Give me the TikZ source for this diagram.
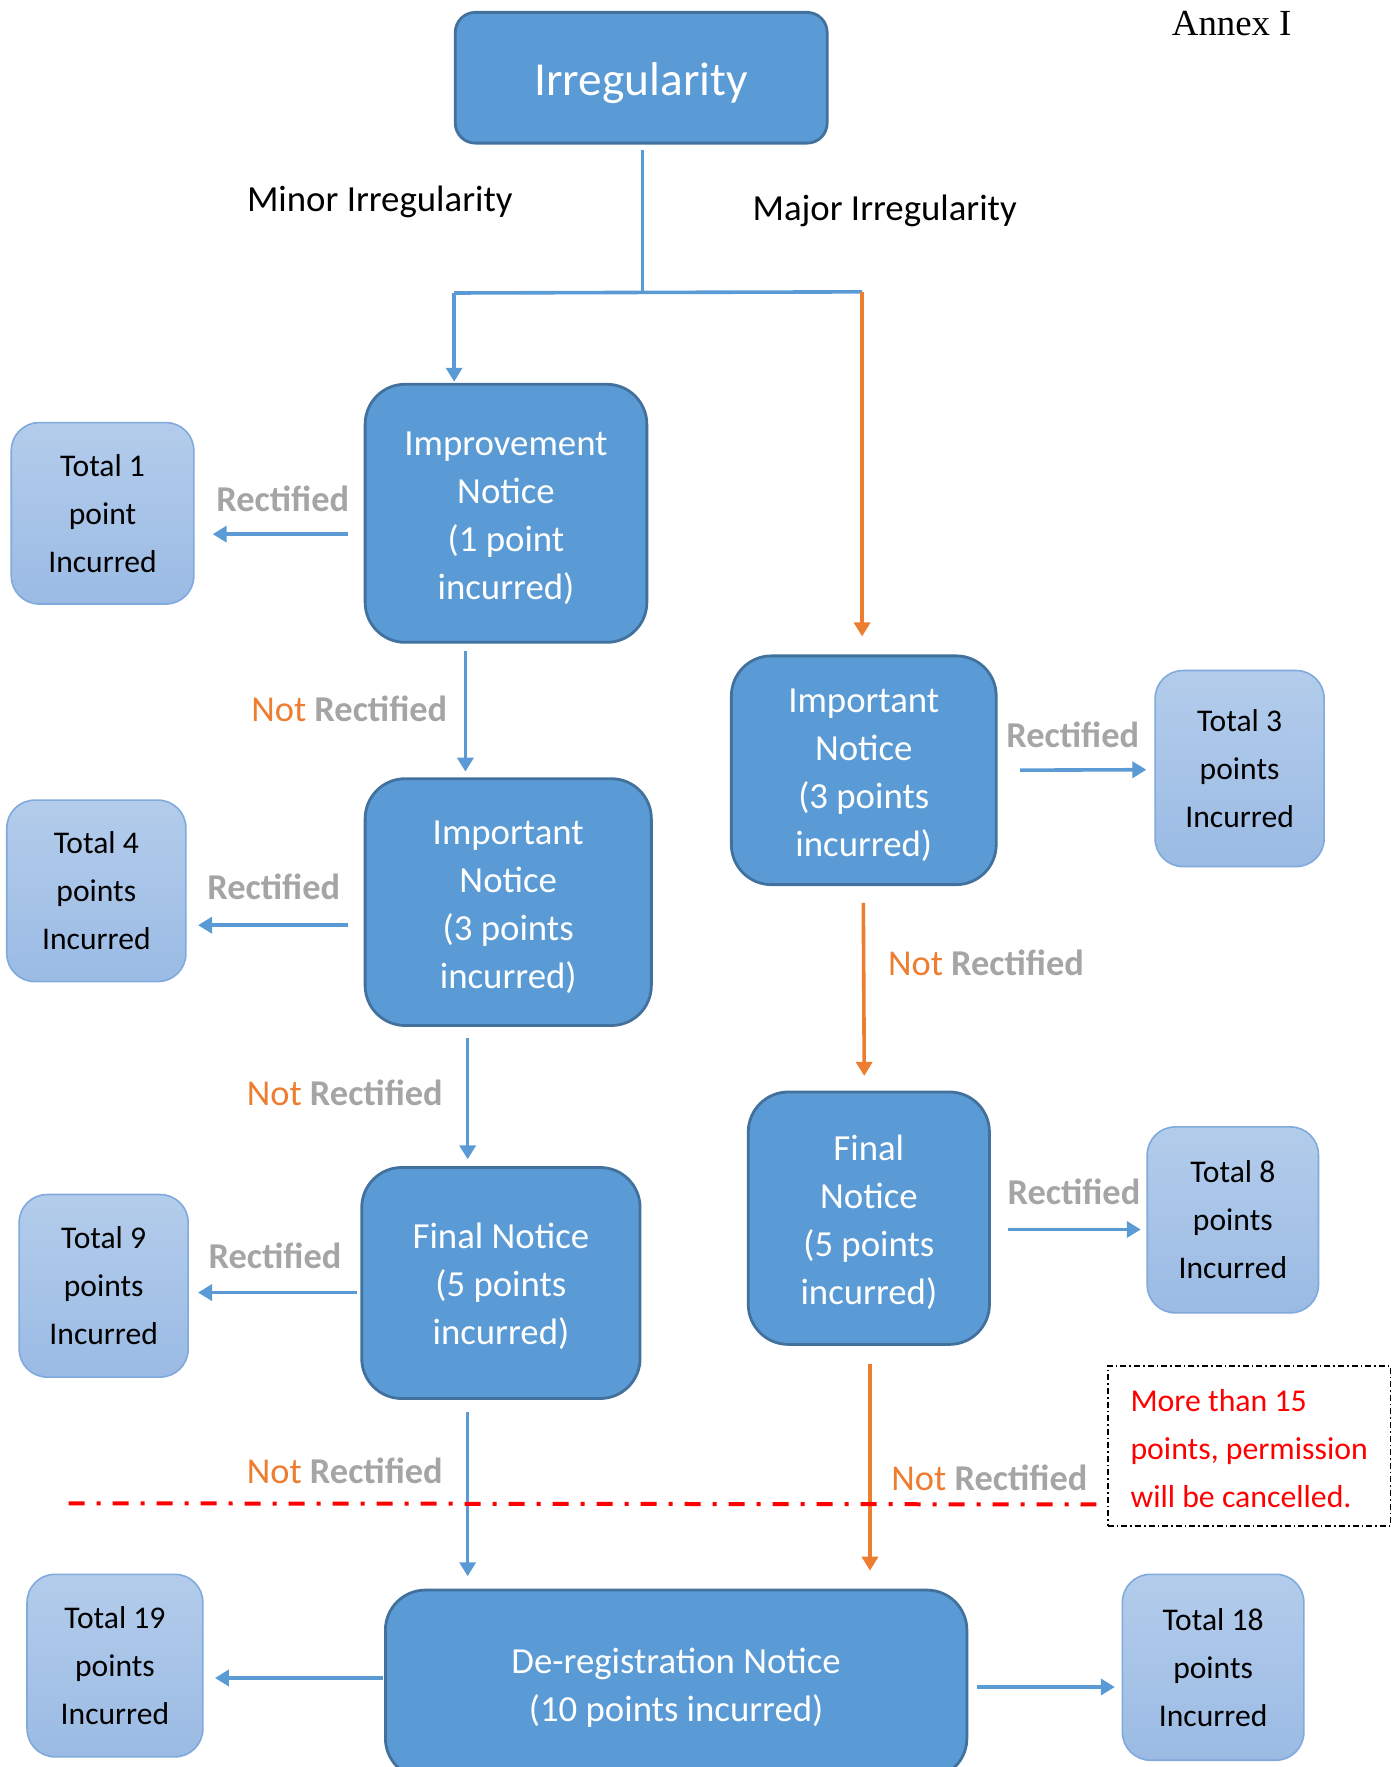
\documentclass[tikz,border=0pt]{standalone}
\usepackage{fontspec}
\setmainfont{Carlito}
\newfontfamily\annexfont{Liberation Serif}
\usetikzlibrary{positioning,arrows.meta,calc}
\definecolor{boxblue}{HTML}{5B9BD5}
\definecolor{boxedge}{HTML}{41719C}
\definecolor{lighttop}{HTML}{B3CCEB}
\definecolor{lightbot}{HTML}{9BBBE4}
\definecolor{lightedge}{HTML}{80A9DC}
\definecolor{notorange}{HTML}{ED7D31}
\definecolor{rectgray}{HTML}{A5A5A5}
\newlength{\px}
\setlength{\px}{0.5636pt}
\newcommand{\notword}{{\mdseries\textcolor{notorange}{Not}}}
\newcommand{\topgap}[1]{\rule{0pt}{#1}}

\begin{document}
\begin{tikzpicture}[x=\px, y=-\px,
  notice/.style={draw=boxedge, fill=boxblue, line width=1.4pt, text=white, align=center,
    font=\fontsize{18.4}{24}\selectfont, inner sep=0pt, rounded corners=20pt},
  total/.style={draw=lightedge, top color=lighttop, bottom color=lightbot, line width=0.8pt,
    rounded corners=14pt, align=center, font=\fontsize{15.8}{24}\selectfont, inner sep=0pt},
  link/.style={draw=boxblue, line width=1.8pt},
  flow/.style={link, -{Triangle[length=7pt,width=8pt]}, shorten <=6\px, shorten >=5\px},
  majorflow/.style={flow, draw=notorange},
  donelbl/.style={font=\bfseries\fontsize{18.2}{22}\selectfont, text=rectgray},
  branchlbl/.style={font=\fontsize{18.4}{22}\selectfont},
  cutline/.style={draw=red, line width=2pt, dash pattern=on 8pt off 6pt on 2pt off 6pt}
]
  \useasboundingbox (0,0) rectangle (1242,1568);
  \clip (0,0) rectangle (1242,1568);

  % Top of the chart
  \node[notice, rounded corners=10pt, minimum width=330\px, minimum height=116\px,
    font=\fontsize{23.7}{28}\selectfont] (irr) at (569,69) {\topgap{22pt}Irregularity};
  \node[font=\annexfont\fontsize{18.4}{22}\selectfont] (annex) at (1093,21) {Annex I};
  \node[branchlbl] (minor) at (337,179) {Minor Irregularity};
  \node[branchlbl] (major) at (785,187) {Major Irregularity};

  % Minor branch
  \node[notice, minimum width=250\px, minimum height=229\px] (imp) at (449,455.5)
    {\topgap{16.5pt}Improvement\\Notice\\(1 point\\incurred)};
  \node[notice, minimum width=254\px, minimum height=219\px] (impL) at (451,800.5)
    {\topgap{16.5pt}Important\\Notice\\(3 points\\incurred)};
  \node[notice, minimum width=247\px, minimum height=205\px] (finL) at (444.5,1138.5)
    {\topgap{16.5pt}Final Notice\\(5 points\\incurred)};

  % Major branch
  \node[notice, minimum width=235\px, minimum height=203\px] (impR) at (766.5,683.5)
    {\topgap{16.5pt}Important\\Notice\\(3 points\\incurred)};
  \node[notice, minimum width=214\px, minimum height=224\px] (finR) at (771,1081)
    {\topgap{16.5pt}Final\\Notice\\(5 points\\incurred)};

  % Last step
  \node[notice, minimum width=516\px, minimum height=167\px] (dereg) at (600,1494.5)
    {\topgap{16.5pt}De-registration Notice\\(10 points incurred)};

  % Totals
  \node[total, minimum width=162\px, minimum height=161\px] (tot1) at (91,455.5) {Total 1\\point\\Incurred};
  \node[total, minimum width=159\px, minimum height=161\px] (tot4) at (85.5,790.5) {Total 4\\points\\Incurred};
  \node[total, minimum width=150\px, minimum height=162\px] (tot9) at (92,1141) {Total 9\\points\\Incurred};
  \node[total, minimum width=156\px, minimum height=162\px] (tot19) at (102,1478) {Total 19\\points\\Incurred};
  \node[total, minimum width=150\px, minimum height=174\px] (tot3) at (1100,682) {Total 3\\points\\Incurred};
  \node[total, minimum width=152\px, minimum height=165\px] (tot8) at (1094,1082.5) {Total 8\\points\\Incurred};
  \node[total, minimum width=161\px, minimum height=165\px] (tot18) at (1076.5,1479.5) {Total 18\\points\\Incurred};

  % Warning box
  \node[draw, line width=0.8pt, dash pattern=on 3pt off 1.5pt on 0.8pt off 1.5pt, text=red,
    align=left, minimum width=251\px, minimum height=142\px, font=\fontsize{15.9}{24}\selectfont]
    (warn) at (1108.5,1283) {\topgap{14pt}More than 15\\points, permission\\will be cancelled.};

  % Split below Irregularity
  \coordinate (split) at (570,259.5);
  \coordinate (minorL) at (403,260);
  \coordinate (majorR) at (765,259);
  \draw[link, shorten <=5\px] ([xshift=1\px]irr.south) -- (split);
  \draw[link] (minorL) -- (split) -- (majorR);
  \draw[flow, shorten <=0pt, shorten >=1\px] (minorL) -- (minorL |- imp.north);
  \draw[majorflow, shorten <=0pt, shorten >=16\px] (majorR) -- (majorR |- impR.north);

  % Minor branch arrows
  \draw[flow, shorten <=14\px, shorten >=16\px] ([yshift=-18.5\px]imp.west) -- ([yshift=-18.5\px]tot1.east);
  \draw[flow] ([xshift=-36\px]imp.south) -- ([xshift=-38\px]impL.north);
  \draw[flow, shorten <=14\px, shorten >=10\px] ([yshift=-20.5\px]impL.west) -- ([yshift=-30.5\px]tot4.east);
  \draw[flow, shorten <=10\px, shorten >=6\px] ([xshift=-36\px]impL.south) -- ([xshift=-29.5\px]finL.north);
  \draw[flow, shorten <=3\px, shorten >=8\px] ([yshift=-8.5\px]finL.west) -- ([yshift=-6\px]tot9.east);
  \draw[flow, shorten <=11\px, shorten >=11\px] ([xshift=-29.5\px]finL.south) -- ([xshift=-185\px]dereg.north);

  % Major branch arrows
  \draw[flow, shorten <=20\px, shorten >=7\px] (impR.east) -- ([yshift=-1\px]tot3.west);
  \draw[majorflow, shorten <=15\px, shorten >=13\px] ([xshift=-0.5\px]impR.south) -- ([xshift=-4\px]finR.north);
  \draw[flow, shorten <=15\px, shorten >=5\px] ([yshift=-10\px]finR.east) -- ([yshift=-8.5\px]tot8.west);
  \draw[majorflow, shorten <=16\px, shorten >=16\px] ([xshift=1\px]finR.south) -- ([xshift=172\px]dereg.north);

  % De-registration totals
  \draw[flow, shorten <=1\px, shorten >=10\px] ([yshift=5.5\px]dereg.west) -- ([yshift=-11\px]tot19.east);
  \draw[flow, shorten <=8\px, shorten >=6\px] ([yshift=-2.5\px]dereg.east) -- ([yshift=-17.5\px]tot18.west);

  % Labels
  \node[donelbl] (r1) at (251,443) {Rectified};
  \node[donelbl] (n1) at (310,629) {\notword{} Rectified};
  \node[donelbl] (r2) at (243,787) {Rectified};
  \node[donelbl] (n2) at (306,970) {\notword{} Rectified};
  \node[donelbl] (r3) at (244,1114) {Rectified};
  \node[donelbl] (n3) at (306,1305) {\notword{} Rectified};
  \node[donelbl] (r4) at (952,652) {Rectified};
  \node[donelbl] (n4) at (875,854) {\notword{} Rectified};
  \node[donelbl] (r5) at (953,1058) {Rectified};
  \node[donelbl] (n5) at (878,1311) {\notword{} Rectified};

  % 15 point limit
  \coordinate (cutL) at (61,1334);
  \coordinate (cutR) at (975,1335);
  \draw[cutline] (cutL) -- (cutR);
\end{tikzpicture}
\end{document}
